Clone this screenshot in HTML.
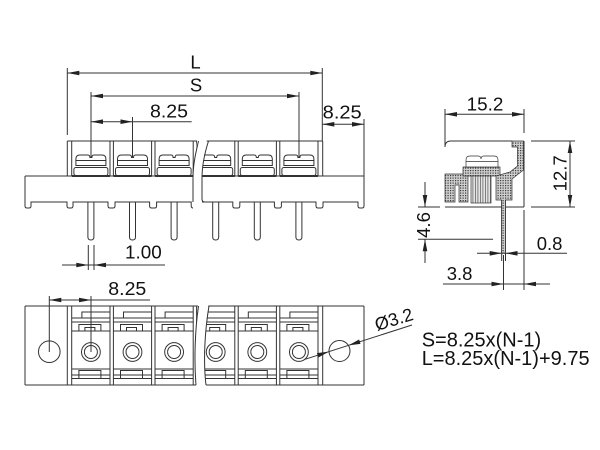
<!DOCTYPE html>
<html><head><meta charset="utf-8"><style>
html,body{margin:0;padding:0;background:#fff;width:600px;height:450px;overflow:hidden}
svg{display:block}
text{font-family:"Liberation Sans",Arial,sans-serif;fill:#111}
</style></head><body>
<svg width="600" height="450" viewBox="0 0 600 450" xmlns="http://www.w3.org/2000/svg">
<defs>
<pattern id="ht" width="2.5" height="2.5" patternUnits="userSpaceOnUse"><rect width="2.5" height="2.5" fill="#cfcfcf"/><rect width="1.2" height="1.2" fill="#3a3a3a"/></pattern>
<pattern id="vt" width="2.5" height="3" patternUnits="userSpaceOnUse"><rect width="2.5" height="3" fill="#e4e4e4"/><rect width="0.8" height="3" fill="#666"/></pattern>
<clipPath id="cl1"><path d="M0,130H198.5C196,152 193,164 193,178V250H0Z"/></clipPath>
<clipPath id="cr1"><path d="M600,130H208.5C205,152 202,164 202,178V250H600Z"/></clipPath>
<clipPath id="cl2"><path d="M0,300H198.5C195,330 194,360 196,385V395H0Z"/></clipPath>
<clipPath id="cr2"><path d="M600,300H209C205,330 203,360 206,385V395H600Z"/></clipPath>

<g id="fcell">
 <path fill="#fff" d="M-15,165.5V159Q-15,155 -11,155H-3Q-1,155 -1,157.5H1Q1,155 3,155H11Q15,155 15,159V165.5Z"/>
 <path d="M-15,160.5H15"/>
 <rect x="-17" y="167.5" width="34" height="8" rx="2"/>
 <path d="M-19,176H19" stroke-width="2"/>
 <path d="M-3,202V237Q-3,240 0,240Q3,240 3,237V202"/>
</g>

<g id="bcell">
 <path d="M-19.2,318H19.1M-19.2,322H19.1M-19.2,331H19.1M-9,318V312H19.1"/>
 <path d="M-12,331V324.5H10V331M-6,331V327.5H4V331"/>
 <circle cy="352" r="9.4"/><circle cy="352" r="6.5"/>
 <path d="M-19.2,369H19.1M-19.2,375H19.1M-19.2,378.5H19.1M-12,378.5V370.5H10V378.5"/>
</g>

<g id="front">
 <path d="M67.3,141H322.7M67.3,141V176M71.7,141V176M322.7,141V176M318,141V176M110,141V176M113.4,141V176M151.6,141V176M155,141V176M193.2,141V176M196.6,141V176M234.8,141V176M238.2,141V176M276.4,141V176M279.8,141V176M25,176H364"/>
 <path d="M25,176V206Q25,208 27,208H29Q31,208 31,206V202H67V206Q67,208 69,208H71Q73,208 73,206V202H108V206Q108,208 110,208H113Q115,208 115,206V202H149.6V206Q149.6,208 151.6,208H154.6Q156.6,208 156.6,206V202H191.2V206Q191.2,208 193.2,208H196.2Q198.2,208 198.2,206V202H232.8V206Q232.8,208 234.8,208H237.8Q239.8,208 239.8,206V202H274.4V206Q274.4,208 276.4,208H279.4Q281.4,208 281.4,206V202H316V206Q316,208 318,208H321Q323,208 323,206V202H358V206Q358,208 360,208H362Q364,208 364,206V176"/>
 <use href="#fcell" x="90.9"/>
 <use href="#fcell" x="132.5"/>
 <use href="#fcell" x="174.1"/>
 <use href="#fcell" x="215.7"/>
 <use href="#fcell" x="257.3"/>
 <use href="#fcell" x="298.9"/>
</g>

<g id="bottom">
 <path d="M25,306H364M25,385H364M25,306V385M364,306V385M67.3,306V385M71.7,306V385M318,306V385M322.7,306V385M110,306V385M113.4,306V385M151.6,306V385M155,306V385M193.2,306V385M196.6,306V385M234.8,306V385M238.2,306V385M276.4,306V385M279.8,306V385"/>
 <use href="#bcell" x="90.9"/>
 <use href="#bcell" x="132.5"/>
 <use href="#bcell" x="174.1"/>
 <use href="#bcell" x="215.7"/>
 <use href="#bcell" x="257.3"/>
 <use href="#bcell" x="298.9"/>
</g>
</defs>

<g fill="none" stroke="#333" stroke-width="1">
 <!-- FRONT VIEW -->
 <g clip-path="url(#cl1)"><use href="#front"/></g>
 <g clip-path="url(#cr1)"><use href="#front"/></g>
 <path d="M198.5,141C196,152 193,164 193,178V202"/>
 <path d="M208.5,141C205,152 202,164 202,178V199Q202,202 205,202"/>

 <!-- dims front -->
 <path d="M67.3,68V135M322.3,68V141M67.3,73H322.3"/>
 <path d="M91,92V157M299,92V157M91,96H299"/>
 <path d="M132.5,117V157M91,121.7H191.7"/>
 <path d="M364,119V176M322.3,124.3H364"/>
 <path d="M88.3,245V270M94,245V270M62,265H165"/>

 <!-- BOTTOM VIEW -->
 <g clip-path="url(#cl2)"><use href="#bottom"/></g>
 <g clip-path="url(#cr2)"><use href="#bottom"/></g>
 <path d="M198.5,306C195,330 194,360 196,385"/>
 <path d="M209,306C205,330 203,360 206,385"/>
 <circle cx="49.3" cy="351.7" r="10.8"/>
 <circle cx="339.5" cy="351" r="10.5"/>
 <path d="M49.3,296V352M91,296V352M49.3,300H150"/>
 <path d="M305,359.3L412,325"/>

 <!-- SIDE VIEW -->
 <path d="M445,109V147Q445,141 451,141H512M524,141V207M445,207H524M524,109V133M445,114.3H524"/>
 <path d="M531,141H575M531,207H575M570,141V207"/>
 <path d="M418,207H440M418,239.3H493M425,182V207M425,239.3V263"/>
 <path d="M501.7,200V261M505.5,200V261M477,253.3H567"/>
 <path d="M503.5,255V290M524,210V290M443,284H550"/>
</g>

<!-- hatched side internals -->
<g stroke="#333" stroke-width="0.7">
 <path fill="url(#ht)" d="M445,174H468V202H459V185H455V202H445Z"/>
 <path fill="url(#ht)" d="M463,167H500V176H463Z"/>
 <rect x="471" y="176" width="20" height="27" fill="url(#vt)"/>
 <path fill="url(#ht)" d="M512,141H523.5V170L512,179V200H505.5V253H501.7V200H496V176L510,172L517.5,166V147H512Z"/>
 <path fill="#fff" d="M466,167V160Q466,156 470,156H478Q481,156 481,159Q481,156 484,156H494Q498,156 498,160V167Z"/>
 <path fill="none" d="M466,161.5H498"/>
</g>

<!-- arrowheads -->
<g fill="#222">
 <polygon points="67.3,73 79.3,70.7 79.3,75.3"/>
 <polygon points="322.3,73 310.3,70.7 310.3,75.3"/>
 <polygon points="91,96 103,93.7 103,98.3"/>
 <polygon points="299,96 287,93.7 287,98.3"/>
 <polygon points="91,121.7 103,119.4 103,124"/>
 <polygon points="132.5,121.7 120.5,119.4 120.5,124"/>
 <polygon points="322.3,124.3 334.3,122 334.3,126.6"/>
 <polygon points="364,124.3 352,122 352,126.6"/>
 <polygon points="88.3,265 76.3,262.7 76.3,267.3"/>
 <polygon points="94,265 106,262.7 106,267.3"/>
 <polygon points="49.3,300 61.3,297.7 61.3,302.3"/>
 <polygon points="91,300 79,297.7 79,302.3"/>
 <polygon points="329,351.6 318.3,357.5 316.9,353.1"/>
 <polygon points="348.4,345.4 360.5,343.9 359.1,339.5"/>
 <polygon points="445,114.3 457,112 457,116.6"/>
 <polygon points="524,114.3 512,112 512,116.6"/>
 <polygon points="570,141 567.7,153 572.3,153"/>
 <polygon points="570,207 567.7,195 572.3,195"/>
 <polygon points="425,207 422.7,195 427.3,195"/>
 <polygon points="425,239.3 422.7,251.3 427.3,251.3"/>
 <polygon points="501.7,253.3 489.7,251 489.7,255.6"/>
 <polygon points="505.5,253.3 517.5,251 517.5,255.6"/>
 <polygon points="503.5,284 491.5,281.7 491.5,286.3"/>
 <polygon points="524,284 536,281.7 536,286.3"/>
</g>

<!-- text -->
<g font-size="18.5">
 <text x="195.5" y="68.3" text-anchor="middle">L</text>
 <text x="196" y="91.7" text-anchor="middle">S</text>
 <text x="150" y="117.3" textLength="38" lengthAdjust="spacingAndGlyphs">8.25</text>
 <text x="322.7" y="118.3" textLength="39" lengthAdjust="spacingAndGlyphs">8.25</text>
 <text x="125" y="258.3" textLength="36.7" lengthAdjust="spacingAndGlyphs">1.00</text>
 <text x="108.3" y="295" textLength="38" lengthAdjust="spacingAndGlyphs">8.25</text>
 <text x="466.7" y="110.7" textLength="36.7" lengthAdjust="spacingAndGlyphs">15.2</text>
 <text x="566.7" y="173.3" text-anchor="middle" transform="rotate(-90 566.7 173.3)">12.7</text>
 <text x="430" y="225" text-anchor="middle" transform="rotate(-90 430 225)">4.6</text>
 <text x="536.7" y="250">0.8</text>
 <text x="446.7" y="280">3.8</text>
 <text x="377" y="331" font-size="18" transform="rotate(-17 377 331)">Ø3.2</text>
</g>
<g font-size="20">
 <text x="421.7" y="346.7">S=8.25x(N-1)</text>
 <text x="421.7" y="365">L=8.25x(N-1)+9.75</text>
</g>
</svg>
</body></html>
